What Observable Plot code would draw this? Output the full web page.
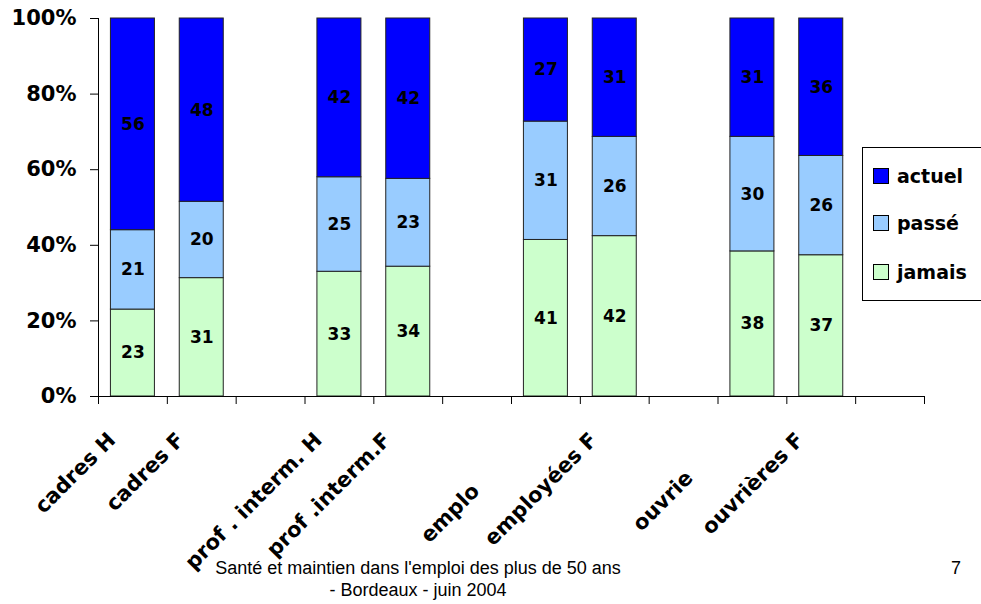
<!DOCTYPE html>
<html><head><meta charset="utf-8">
<script src="https://cdn.jsdelivr.net/npm/d3@7"></script>
<script src="https://cdn.jsdelivr.net/npm/@observablehq/plot@0.6"></script>
<style>
html,body{margin:0;padding:0;background:#fff;overflow:hidden;}
#wrap{position:relative;width:981px;height:604px;overflow:hidden;}
#wrap svg{position:absolute;left:0;top:0;}
.legend{position:absolute;left:862px;top:147px;width:140px;height:154px;border:1px solid #000;background:#fff;box-sizing:border-box;font-family:'DejaVu Sans',sans-serif;font-weight:bold;font-size:19px;}
.legend .item{position:absolute;left:10px;height:16px;display:flex;align-items:center;white-space:nowrap;}
.legend .sw{width:14px;height:14px;border:1px solid #000;margin-right:8px;flex:none;}
.caption{position:absolute;left:0;top:557px;width:836px;text-align:center;font-family:'Liberation Sans',Arial,sans-serif;font-size:18px;line-height:22px;color:#000;}
.page{position:absolute;left:951px;top:557px;font-family:'Liberation Sans',Arial,sans-serif;font-size:18px;line-height:22px;}
</style></head><body><div id="wrap"></div>
<script>
// ---- data ----
const categories = ["cadres H","cadres F","_gap1","prof . interm. H","prof .interm.F","_gap2","employés H","employées F","_gap3","ouvriers H","ouvrières F","_gap4"];
const barCategories = ["cadres H","cadres F","prof . interm. H","prof .interm.F","employés H","employées F","ouvriers H","ouvrières F"];
const series = ["jamais","passé","actuel"];
const jamais = [23,31,33,34,41,42,38,37];
const passe  = [21,20,25,23,31,26,30,26];
const actuel = [56,48,42,42,27,31,31,36];
const legendOrder = ["actuel","passé","jamais"];
const legendColors = ["#0000ff","#99ccff","#ccffcc"];
const yTicks = [0,0.2,0.4,0.6,0.8,1];
const fullLabels = ["cadres H","cadres F","prof . interm. H","prof .interm.F","employées F","ouvrières F"];
const clippedLabels = {"employés H":"emplo","ouvriers H":"ouvrie"};

const valuesBySerie = {"jamais":jamais,"passé":passe,"actuel":actuel};
const rows = [];
barCategories.forEach((c,i)=>{ series.forEach(s=>rows.push({cat:c, serie:s, value:valuesBySerie[s][i]})); });

// ---- layout ----
const W=981, H=604, ml=98, mr=57, mt=18, mb=208;
const bw = (W-ml-mr)/categories.length;
const inset = (bw-44)/2;
const font = "'DejaVu Sans', sans-serif";

const chart = Plot.plot({
  width:W, height:H, marginLeft:ml, marginRight:mr, marginTop:mt, marginBottom:mb,
  style:{fontFamily:font, fontWeight:"bold", fontSize:"20px", color:"#000", background:"transparent", overflow:"visible"},
  x:{type:"band", domain:categories, padding:0, round:false, axis:null},
  y:{domain:[0,1], axis:null},
  color:{domain:legendOrder, range:legendColors},
  marks:[
    Plot.barY(rows, Plot.stackY({offset:"normalize", order:series, x:"cat", y:"value", z:"serie", fill:"serie", stroke:"#222", strokeWidth:1, insetLeft:inset, insetRight:inset})),
    Plot.text(rows, Plot.stackY({offset:"normalize", order:series, x:"cat", y:"value", z:"serie", text:d=>String(d.value), fontSize:17, fontWeight:"bold", fill:"#000"})),
    Plot.ruleY([0], {stroke:"#000"}),
    Plot.ruleX([categories[0]], {dx:-bw/2, stroke:"#000"}),
    Plot.axisY(yTicks, {label:null, tickSize:8, tickPadding:14, tickFormat:d=>Math.round(d*100)+"%", fontSize:21, fontWeight:"bold", stroke:"#000"}),
    Plot.axisX(categories, {label:null, tickSize:8, dx:-bw/2, tickFormat:()=>"", stroke:"#000"}),
    Plot.axisX([categories[categories.length-1]], {label:null, tickSize:8, dx:bw/2, tickFormat:()=>"", stroke:"#000"}),
    Plot.axisX(fullLabels, {label:null, tickSize:0, tickPadding:0, tickRotate:-45, dx:-21, dy:40, fontSize:21, fontWeight:"bold"}),
    Plot.axisX(["employés H"], {label:null, tickSize:0, tickPadding:0, tickRotate:-45, dx:-70, dy:91, fontSize:21, fontWeight:"bold", tickFormat:d=>clippedLabels[d]}),
    Plot.axisX(["ouvriers H"], {label:null, tickSize:0, tickPadding:0, tickRotate:-45, dx:-63, dy:78, fontSize:21, fontWeight:"bold", tickFormat:d=>clippedLabels[d]})
  ]
});
const wrap = document.getElementById("wrap");
wrap.appendChild(chart);

// legend
const lg = document.createElement("div");
lg.className = "legend";
const tops = [20,67,116];
legendOrder.forEach((s,i)=>{
  const it = document.createElement("div");
  it.className = "item";
  it.style.top = tops[i]+"px";
  const sw = document.createElement("span");
  sw.className = "sw"; sw.style.background = legendColors[i];
  const t = document.createElement("span"); t.textContent = s;
  it.appendChild(sw); it.appendChild(t); lg.appendChild(it);
});
wrap.appendChild(lg);

const cap = document.createElement("div");
cap.className = "caption";
cap.innerHTML = "Santé et maintien dans l'emploi des plus de 50 ans<br>- Bordeaux - juin 2004";
wrap.appendChild(cap);
const pg = document.createElement("div");
pg.className = "page"; pg.textContent = "7";
wrap.appendChild(pg);
</script>
</body></html>
